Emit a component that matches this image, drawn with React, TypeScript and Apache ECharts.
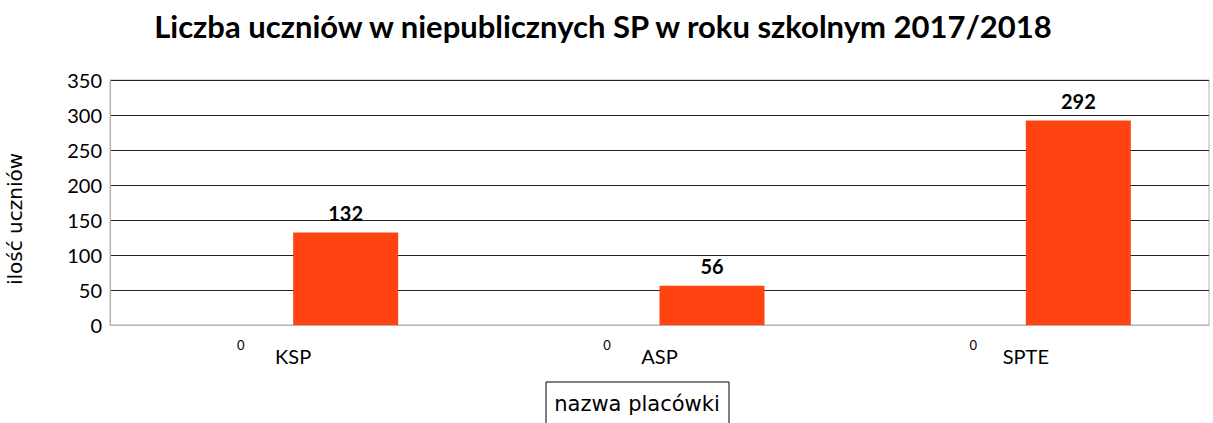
import React, { useEffect, useRef } from "react";
import * as echarts from "echarts";

const categories = ["KSP", "ASP", "SPTE"];
const zeroSeries = [0, 0, 0];
const pupils = [132, 56, 292];
const yTicks = { min: 0, max: 350, interval: 50 };
const titleText = "Liczba uczniów w niepublicznych SP w roku szkolnym 2017/2018";
const yName = "ilość uczniów";
const xName = "nazwa placówki";

const FONT = "Lato, 'Noto Sans', sans-serif";

export default function App() {
  const ref = useRef<HTMLDivElement>(null);
  useEffect(() => {
    document.body.style.margin = "0";
    const chart = echarts.init(ref.current!, null, { renderer: "svg" });
    chart.setOption({
      animation: false,
      backgroundColor: "#fff",
      textStyle: { fontFamily: FONT },
      title: {
        text: titleText,
        left: 598,
        textAlign: "center",
        top: 5,
        textStyle: { fontFamily: FONT, fontWeight: "bold", fontSize: 31, color: "#000" },
      },
      grid: {
        left: 110,
        right: 4,
        top: 80,
        bottom: 98,
        show: true,
        borderColor: "#b3b3b3",
        borderWidth: 1,
        containLabel: false,
      },
      xAxis: {
        type: "category",
        data: categories,
        axisLine: { lineStyle: { color: "#b3b3b3" } },
        axisTick: { show: false },
        axisLabel: { fontFamily: FONT, fontSize: 20, color: "#000", margin: 21 },
      },
      yAxis: {
        type: "value",
        min: yTicks.min,
        max: yTicks.max,
        interval: yTicks.interval,
        axisLine: { show: true, lineStyle: { color: "#b3b3b3" } },
        axisTick: { show: false },
        axisLabel: { fontFamily: FONT, fontSize: 20, color: "#000", margin: 8 },
        splitLine: { lineStyle: { color: "#222", width: 1 } },
      },
      series: [
        {
          type: "bar",
          data: zeroSeries,
          barWidth: 105,
          barGap: "0%",
          itemStyle: { color: "#4472c4" },
          label: {
            show: true,
            position: "bottom",
            distance: 13,
            fontFamily: FONT,
            fontSize: 13,
            color: "#000",
          },
        },
        {
          type: "bar",
          data: pupils,
          barWidth: 105,
          barGap: "0%",
          itemStyle: { color: "#ff4411" },
          label: {
            show: true,
            position: "top",
            distance: 10,
            fontFamily: FONT,
            fontWeight: "bold",
            fontSize: 20,
            color: "#000",
          },
        },
      ],
      graphic: [
        {
          type: "text",
          x: 15,
          y: 219,
          rotation: Math.PI / 2,
          style: {
            text: yName,
            fontFamily: "'DejaVu Sans', sans-serif",
            fontSize: 20,
            fill: "#000",
            align: "center",
            verticalAlign: "middle",
          },
        },
        {
          type: "rect",
          shape: { x: 546, y: 382, width: 183, height: 50 },
          style: { fill: "#fff", stroke: "#000", lineWidth: 1 },
        },
        {
          type: "text",
          x: 637,
          y: 404,
          style: {
            text: xName,
            fontFamily: "'DejaVu Sans', sans-serif",
            fontSize: 21,
            fill: "#000",
            align: "center",
            verticalAlign: "middle",
          },
        },
      ],
    });
    return () => chart.dispose();
  }, []);
  return <div ref={ref} style={{ width: 1213, height: 423 }} />;
}
